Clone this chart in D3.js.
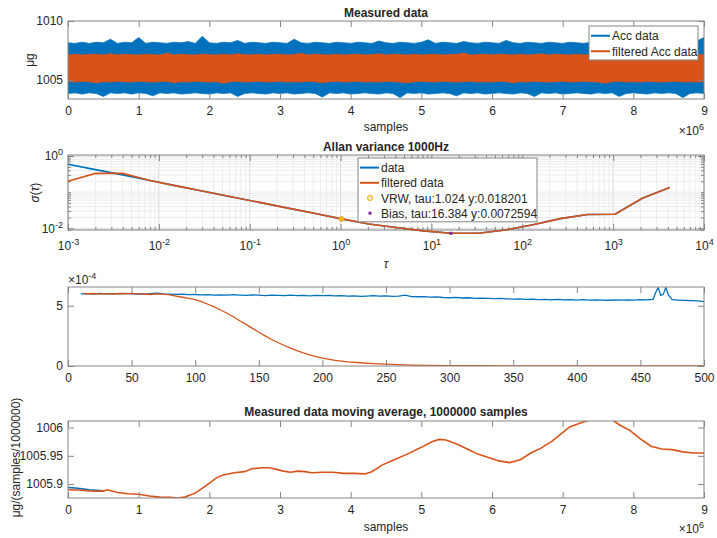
<!DOCTYPE html>
<html>
<head>
<meta charset="utf-8">
<script src="https://cdn.jsdelivr.net/npm/d3@7"></script>
<style>
body{margin:0;background:#fff;}
text{font-family:"Liberation Sans",Arial,sans-serif;fill:#262626;}
</style>
</head>
<body>
<svg id="fig" width="717" height="538"></svg>
<script>
// ---- panel 1: raw / filtered accelerometer data (noise band envelopes, x in 1e6 samples)
var rawX = [0,0.1,0.2,0.3,0.4,0.5,0.6,0.7,0.8,0.9,1,1.1,1.2,1.3,1.4,1.5,1.6,1.7,1.8,1.9,2,2.1,2.2,2.3,2.4,2.5,2.6,2.7,2.8,2.9,
  3,3.1,3.2,3.3,3.4,3.5,3.6,3.7,3.8,3.9,4,4.1,4.2,4.3,4.4,4.5,4.6,4.7,4.8,4.9,5,5.1,5.2,5.3,5.4,5.5,5.6,5.7,5.8,5.9,
  6,6.1,6.2,6.3,6.4,6.5,6.6,6.7,6.8,6.9,7,7.1,7.2,7.3,7.4,7.5,7.6,7.7,7.8,7.9,8,8.1,8.2,8.3,8.4,8.5,8.6,8.7,8.8,8.9,9];
var accHi = [1008.15,1008.1,1008.2,1008.1,1008.2,1008.15,1008.45,1008.1,1008.2,1008.15,
  1008.6,1008.1,1008.2,1008.15,1008.1,1008.2,1008.15,1008.25,1008.1,1008.7,
  1008.15,1008.1,1008.2,1008.15,1008.35,1008.1,1008.2,1008.15,1008.1,1008.2,
  1008.15,1008.1,1008.45,1008.15,1008.1,1008.2,1008.15,1008.1,1008.2,1008.15,
  1008.1,1008.2,1008.15,1008.1,1008.3,1008.15,1008.1,1008.2,1008.15,1008.1,
  1008.2,1008.4,1008.1,1008.2,1008.15,1008.1,1008.25,1008.15,1008.1,1008.2,
  1008.15,1008.1,1008.35,1008.15,1008.1,1008.2,1008.15,1008.1,1008.2,1008.15,
  1008.1,1008.2,1008.15,1008.1,1008.2,1008.0,1008.15,1008.1,1008.2,1008.05,
  1008.1,1008.15,1008.0,1008.1,1008.2,1008.15,1008.1,1008.05,1008.15,1008.3,1008.6];
var accLo = [1003.85,1003.9,1003.8,1003.9,1003.85,1003.6,1003.9,1003.85,1003.9,1003.8,
  1003.9,1003.85,1003.65,1003.9,1003.85,1003.9,1003.8,1003.85,1003.9,1003.85,
  1003.8,1003.9,1003.85,1003.9,1003.6,1003.85,1003.9,1003.85,1003.8,1003.9,
  1003.85,1003.9,1003.8,1003.85,1003.9,1003.85,1003.55,1003.9,1003.85,1003.9,
  1003.8,1003.85,1003.9,1003.85,1003.8,1003.9,1003.85,1003.5,1003.9,1003.85,
  1003.9,1003.8,1003.85,1003.9,1003.85,1003.65,1003.9,1003.85,1003.9,1003.8,
  1003.85,1003.9,1003.85,1003.8,1003.9,1003.85,1003.6,1003.9,1003.85,1003.9,
  1003.8,1003.85,1003.9,1003.85,1003.8,1003.9,1003.85,1003.9,1003.6,1003.85,
  1003.9,1003.85,1003.8,1003.9,1003.85,1003.9,1003.85,1003.5,1003.85,1003.9,1003.85];
var filtHi = [1007.12,1007.17,1007.12,1007.15,1007.18,1007.12,1007.22,1007.12,1007.17,1007.14,
  1007.12,1007.18,1007.14,1007.12,1007.26,1007.12,1007.17,1007.14,1007.12,1007.18,
  1007.14,1007.12,1007.18,1007.12,1007.22,1007.14,1007.12,1007.18,1007.12,1007.15,
  1007.18,1007.12,1007.15,1007.27,1007.12,1007.18,1007.14,1007.12,1007.18,1007.12,
  1007.15,1007.18,1007.12,1007.15,1007.22,1007.12,1007.18,1007.15,1007.12,1007.18,
  1007.12,1007.15,1007.18,1007.12,1007.15,1007.18,1007.26,1007.12,1007.15,1007.18,
  1007.12,1007.18,1007.15,1007.12,1007.18,1007.12,1007.15,1007.22,1007.12,1007.18,
  1007.15,1007.12,1007.18,1007.12,1007.15,1007.18,1007.12,1007.22,1007.15,1007.12,
  1007.18,1007.12,1007.15,1007.18,1007.12,1007.15,1007.18,1007.12,1007.15,1007.18,1007.12];
var filtLo = [1004.85,1004.82,1004.88,1004.85,1004.76,1004.85,1004.82,1004.88,1004.85,1004.82,
  1004.88,1004.85,1004.82,1004.85,1004.88,1004.76,1004.85,1004.82,1004.88,1004.85,
  1004.82,1004.85,1004.72,1004.85,1004.88,1004.82,1004.85,1004.88,1004.82,1004.85,
  1004.88,1004.82,1004.85,1004.82,1004.88,1004.85,1004.76,1004.85,1004.88,1004.82,
  1004.85,1004.88,1004.82,1004.85,1004.82,1004.88,1004.85,1004.82,1004.75,1004.85,
  1004.88,1004.85,1004.82,1004.88,1004.85,1004.82,1004.85,1004.88,1004.82,1004.85,
  1004.82,1004.88,1004.85,1004.76,1004.85,1004.82,1004.88,1004.85,1004.82,1004.85,
  1004.88,1004.82,1004.85,1004.88,1004.85,1004.82,1004.72,1004.85,1004.88,1004.82,
  1004.85,1004.82,1004.88,1004.85,1004.82,1004.85,1004.88,1004.82,1004.85,1004.82,1004.85];

// ---- panel 2: Allan deviation
var allanTau = [0.001,0.002,0.004,0.008,0.016,0.032,0.064,0.128,0.256,0.512,1.024,2.048,4.096,8.192,
  16.384,32.768,65.536,131.072,262.144,524.288,1048.576,2097.152,4194.304];
var allanData = [0.59,0.42,0.30,0.21,0.147,0.104,0.0737,0.0521,0.0368,0.026,0.0182,0.0132,0.0105,0.0085,
  0.00726,0.0073,0.009,0.0125,0.0185,0.024,0.0245,0.068,0.135];
var allanFilt = [0.20,0.33,0.33,0.21,0.147,0.104,0.0737,0.0521,0.0368,0.026,0.0182,0.0132,0.0105,0.0085,
  0.00726,0.0073,0.009,0.0125,0.0185,0.024,0.0245,0.068,0.135];
var vrwPoint = {tau:1.024, y:0.018201};
var biasPoint = {tau:16.384, y:0.0072594};

// ---- panel 3 (values x1e-4)
var p3BlueX = [10,15,20,25,30,35,40,45,50,55,60,65,70,75,80,85,90,95,100,105,110,115,120,125,130,135,140,145,150,
  155,160,165,170,175,180,185,190,195,200,205,210,215,220,225,230,235,240,245,250,255,260,265,270,275,280,285,290,
  295,300,305,310,315,320,325,330,335,340,345,350,355,360,365,370,375,380,385,390,395,400,405,410,415,420,425,430,
  435,440,445,450,455,460,462,464,466,468,470,472,475,480,485,490,495,500];
var p3BlueY = [5.98,6.0,5.97,6.01,5.98,6.0,5.99,6.02,5.98,5.97,5.95,5.99,6.03,5.98,5.96,5.94,5.95,5.91,5.93,5.89,
  5.92,5.88,5.9,5.87,5.91,5.88,5.86,5.9,5.87,5.84,5.88,5.85,5.83,5.87,5.84,5.86,5.82,5.85,5.83,5.86,5.81,5.84,5.8,
  5.82,5.78,5.8,5.83,5.79,5.81,5.77,5.79,5.88,5.76,5.74,5.76,5.71,5.73,5.68,5.66,5.69,5.64,5.66,5.61,5.63,5.6,
  5.58,5.61,5.57,5.55,5.57,5.52,5.55,5.51,5.53,5.49,5.52,5.48,5.5,5.47,5.5,5.46,5.49,5.47,5.45,5.48,5.46,5.49,
  5.47,5.5,5.48,5.53,6.1,6.5,5.85,5.95,6.5,5.9,5.5,5.47,5.44,5.42,5.4,5.33];
var p3RedX = [12,15,20,25,30,35,40,45,50,55,60,65,70,75,80,85,90,95,100,105,110,115,120,125,130,135,140,145,150,
  155,160,165,170,175,180,185,190,195,200,210,220,230,240,250,260,270,280,300,320,350,400,450,500];
var p3RedY = [6.02,5.99,6.01,5.98,6.0,5.97,6.01,5.99,6.02,5.98,5.97,5.93,5.98,5.96,5.9,5.8,5.7,5.6,5.5,5.33,
  5.12,4.9,4.64,4.37,4.08,3.75,3.45,3.12,2.8,2.5,2.2,1.95,1.7,1.48,1.27,1.08,0.92,0.78,0.65,0.46,0.35,0.27,0.2,
  0.15,0.11,0.08,0.06,0.035,0.02,0.01,0.004,0.002,0.001];

// ---- panel 4: moving average (x in 1e6 samples)
var maX = [0,0.1,0.2,0.3,0.4,0.5,0.55,0.7,0.85,1.0,1.15,1.3,1.45,1.55,1.65,1.8,1.95,2.1,2.2,2.35,2.5,2.6,2.75,
  2.85,2.95,3.05,3.15,3.25,3.35,3.45,3.6,3.75,3.9,4.05,4.2,4.3,4.45,4.6,4.8,5.0,5.15,5.25,5.35,5.5,5.65,5.8,
  5.95,6.1,6.25,6.4,6.55,6.7,6.85,7.0,7.1,7.25,7.4,7.55,7.7,7.8,7.95,8.1,8.25,8.4,8.55,8.7,8.85,9.0];
var maFilt = [1005.890,1005.8895,1005.889,1005.888,1005.8875,1005.8875,1005.890,1005.885,1005.883,1005.882,
  1005.879,1005.877,1005.8765,1005.8755,1005.877,1005.884,1005.897,1005.911,1005.916,1005.920,1005.922,
  1005.927,1005.929,1005.929,1005.926,1005.923,1005.921,1005.923,1005.922,1005.920,1005.921,1005.921,
  1005.919,1005.919,1005.918,1005.922,1005.934,1005.942,1005.953,1005.965,1005.975,1005.979,1005.978,
  1005.971,1005.962,1005.953,1005.947,1005.941,1005.938,1005.943,1005.955,1005.964,1005.976,1005.991,
  1006.001,1006.008,1006.014,1006.015,1006.014,1006.005,1005.995,1005.980,1005.967,1005.962,1005.961,
  1005.957,1005.955,1005.955];
var maRawX = [0,0.1,0.2,0.3,0.4,0.5];
var maRaw = [1005.894,1005.893,1005.8915,1005.890,1005.889,1005.888];

var blue = "#0072BD", red = "#D95319", gold = "#EDB120", purple = "#7E2F8E";
var boxColor = "#858585";
var L = 68, R = 704, W = R - L;

var svg = d3.select("svg#fig");

function panel(top, h, name) {
  var g = svg.append("g").attr("transform", "translate(" + L + "," + top + ")");
  svg.append("clipPath").attr("id", name).append("rect").attr("width", W).attr("height", h);
  return g;
}

function styleAxis(sel) {
  sel.attr("font-size", 12).attr("font-family", "'Liberation Sans',Arial,sans-serif");
  sel.select(".domain").remove();
  sel.selectAll("line").attr("stroke", boxColor);
  sel.selectAll("text").attr("fill", "#262626");
}

function sup(sel, exp) {
  sel.each(function(d) {
    var t = d3.select(this).text(null);
    t.append("tspan").text("10");
    t.append("tspan").attr("dy", "-0.55em").attr("font-size", "9px").text(exp(d));
  });
}

function boxAxes(g, x, y, h, o) {
  var xa = d3.axisBottom(x).tickSize(-6).tickPadding(o.xPad || 7).tickValues(o.xTicks);
  if (o.xFormat) xa.tickFormat(o.xFormat);
  var gx = g.append("g").attr("transform", "translate(0," + h + ")").call(xa);
  styleAxis(gx);
  g.append("g").call(d3.axisTop(x).tickSize(-6).tickValues(o.xTicks).tickFormat("")).call(styleAxis);
  var ya = d3.axisLeft(y).tickSize(-6).tickPadding(5).tickValues(o.yTicks);
  if (o.yFormat) ya.tickFormat(o.yFormat);
  var gy = g.append("g").call(ya);
  styleAxis(gy);
  g.append("g").attr("transform", "translate(" + W + ",0)")
   .call(d3.axisRight(y).tickSize(-6).tickValues(o.yTicks).tickFormat("")).call(styleAxis);
  g.append("rect").attr("width", W).attr("height", h)
   .attr("fill", "none").attr("stroke", boxColor);
  return {gx: gx, gy: gy};
}

function title(txt, y) {
  svg.append("text").attr("x", L + W / 2).attr("y", y).attr("text-anchor", "middle")
     .attr("font-size", 12).attr("font-weight", "bold").text(txt);
}
function label(txt, x, y, rot) {
  var t = svg.append("text").attr("text-anchor", "middle").attr("font-size", 12)
     .attr("transform", "translate(" + x + "," + y + ")" + (rot ? " rotate(-90)" : ""));
  t.text(txt);
  return t;
}
function multiplier(x, y, exp, anchor) {
  var t = svg.append("text").attr("x", x).attr("y", y).attr("text-anchor", anchor).attr("font-size", 12);
  t.append("tspan").text("\u00d710");
  t.append("tspan").attr("dy", "-0.55em").attr("font-size", "9px").text(exp);
}

function legend(x, y, w, rowH, items) {
  var lg = svg.append("g").attr("transform", "translate(" + x + "," + y + ")");
  lg.append("rect").attr("width", w).attr("height", rowH * items.length + 3)
    .attr("fill", "#fff").attr("stroke", boxColor);
  var rows = lg.selectAll("g").data(items).enter().append("g")
    .attr("transform", function(d, i) { return "translate(0," + (rowH * i + rowH / 2 + 2) + ")"; });
  rows.each(function(d) {
    var r = d3.select(this);
    if (d.type == "line") {
      r.append("line").attr("x1", 2).attr("x2", 21).attr("stroke", d.color).attr("stroke-width", 2);
    } else if (d.type == "circle") {
      r.append("circle").attr("cx", 12).attr("r", 2.3).attr("fill", "none").attr("stroke", d.color).attr("stroke-width", 1.3);
    } else {
      r.append("rect").attr("x", 10.5).attr("y", -1.5).attr("width", 3).attr("height", 3).attr("fill", d.color);
    }
  });
  rows.append("text").attr("x", 23).attr("y", 4.5).attr("font-size", 12).text(function(d) { return d.name; });
}

// ===== panel 1
(function() {
  var top = 21, h = 78;
  var g = panel(top, h, "clip1");
  var x = d3.scaleLinear().domain([0, 9]).range([0, W]);
  var y = d3.scaleLinear().domain([1003.38, 1010]).range([h, 0]);
  var idx = d3.range(rawX.length);
  var plot = g.append("g").attr("clip-path", "url(#clip1)");
  plot.append("path").datum(idx).attr("fill", blue).attr("stroke", blue).attr("stroke-width", 0.8)
    .attr("d", d3.area().x(function(i) { return x(rawX[i]); })
      .y0(function(i) { return y(accLo[i]); }).y1(function(i) { return y(accHi[i]); }));
  plot.append("path").datum(idx).attr("fill", red).attr("stroke", red).attr("stroke-width", 0.8)
    .attr("d", d3.area().x(function(i) { return x(rawX[i]); })
      .y0(function(i) { return y(filtLo[i]); }).y1(function(i) { return y(filtHi[i]); }));
  boxAxes(g, x, y, h, {xTicks: d3.range(0, 10), yTicks: [1005, 1010], yFormat: d3.format("d")});
  title("Measured data", 17);
  label("samples", L + W / 2, 131);
  label("\u03bcg", 34, top + h / 2, true);
  multiplier(R, 135, "6", "end");
  legend(589, 26, 109, 15.5, [{name: "Acc data", color: blue, type: "line"},
                              {name: "filtered Acc data", color: red, type: "line"}]);
})();

// ===== panel 2
(function() {
  var top = 155, h = 75;
  var g = panel(top, h, "clip2");
  var x = d3.scaleLog().domain([1e-3, 1e4]).range([0, W]);
  var y = d3.scaleLog().domain([0.00897, 1.066]).range([h, 0]);
  var xMinor = [], yMinor = [];
  for (var k = -3; k < 4; k++) for (var m = 2; m < 10; m++) xMinor.push(m * Math.pow(10, k));
  for (var k2 = -3; k2 < 1; k2++) for (var m2 = 1; m2 < 10; m2++) {
    var v = m2 * Math.pow(10, k2);
    if (v > 0.00897 && v < 1.066 && v != 0.01 && v != 1) yMinor.push(v);
  }
  var grid = g.append("g");
  grid.selectAll("line.xm").data(xMinor).enter().append("line")
    .attr("x1", x).attr("x2", x).attr("y1", 0).attr("y2", h).attr("stroke", "#ececec");
  grid.selectAll("line.ym").data(yMinor).enter().append("line")
    .attr("x1", 0).attr("x2", W).attr("y1", y).attr("y2", y).attr("stroke", "#ececec");
  grid.selectAll("line.xM").data(d3.range(-3, 5)).enter().append("line")
    .attr("x1", function(e) { return x(Math.pow(10, e)); }).attr("x2", function(e) { return x(Math.pow(10, e)); })
    .attr("y1", 0).attr("y2", h).attr("stroke", "#dcdcdc");
  grid.selectAll("line.yM").data([0.01, 1]).enter().append("line")
    .attr("x1", 0).attr("x2", W).attr("y1", y).attr("y2", y).attr("stroke", "#dcdcdc");
  // minor ticks
  g.append("g").attr("transform", "translate(0," + h + ")")
    .call(d3.axisBottom(x).tickValues(xMinor).tickSize(-3).tickFormat("")).call(styleAxis);
  g.append("g").call(d3.axisTop(x).tickValues(xMinor).tickSize(-3).tickFormat("")).call(styleAxis);
  g.append("g").call(d3.axisLeft(y).tickValues(yMinor).tickSize(-3).tickFormat("")).call(styleAxis);
  g.append("g").attr("transform", "translate(" + W + ",0)")
    .call(d3.axisRight(y).tickValues(yMinor).tickSize(-3).tickFormat("")).call(styleAxis);
  var xTicks = [1e-3, 1e-2, 1e-1, 1, 10, 100, 1000, 10000];
  var ax = boxAxes(g, x, y, h, {xTicks: xTicks, yTicks: [0.01, 1], xPad: 11});
  ax.gx.selectAll(".tick text").call(sup, function(d) { return String(Math.round(Math.log10(d))); });
  ax.gy.selectAll(".tick text").call(sup, function(d) { return String(Math.round(Math.log10(d))); });

  var line = d3.line().x(function(d) { return x(d[0]); }).y(function(d) { return y(d[1]); });
  g.append("path").datum(d3.zip(allanTau, allanData)).attr("fill", "none")
    .attr("stroke", blue).attr("stroke-width", 1.6).attr("d", line);
  g.append("path").datum(d3.zip(allanTau, allanFilt)).attr("fill", "none")
    .attr("stroke", red).attr("stroke-width", 1.6).attr("d", line);
  g.append("circle").attr("cx", x(vrwPoint.tau)).attr("cy", y(vrwPoint.y)).attr("r", 2.5)
    .attr("fill", gold).attr("stroke", gold);
  g.append("rect").attr("x", x(biasPoint.tau) - 1.5).attr("y", y(biasPoint.y) - 1.5)
    .attr("width", 3).attr("height", 3).attr("fill", purple);
  title("Allan variance 1000Hz", 151);
  label("\u03c4", L + W / 2, 268).attr("font-style", "italic");
  var yl = label("", 39, top + h / 2, true);
  yl.append("tspan").attr("font-style", "italic").text("\u03c3");
  yl.append("tspan").text("(");
  yl.append("tspan").attr("font-style", "italic").text("\u03c4");
  yl.append("tspan").text(")");
  legend(358, 158, 179, 15.2, [{name: "data", color: blue, type: "line"},
                               {name: "filtered data", color: red, type: "line"},
                               {name: "VRW, tau:1.024 y:0.018201", color: gold, type: "circle"},
                               {name: "Bias, tau:16.384 y:0.0072594", color: purple, type: "square"}]);
})();

// ===== panel 3
(function() {
  var top = 287, h = 79;
  var g = panel(top, h, "clip3");
  var x = d3.scaleLinear().domain([0, 500]).range([0, W]);
  var y = d3.scaleLinear().domain([0, 6.55]).range([h, 0]);
  var plot = g.append("g").attr("clip-path", "url(#clip3)");
  var line = d3.line().x(function(d) { return x(d[0]); }).y(function(d) { return y(d[1]); });
  plot.append("path").datum(d3.zip(p3BlueX, p3BlueY)).attr("fill", "none")
    .attr("stroke", blue).attr("stroke-width", 1.3).attr("d", line);
  plot.append("path").datum(d3.zip(p3RedX, p3RedY)).attr("fill", "none")
    .attr("stroke", red).attr("stroke-width", 1.3).attr("d", line);
  boxAxes(g, x, y, h, {xTicks: d3.range(0, 501, 50), yTicks: [0, 5], yFormat: d3.format("d")});
  multiplier(L, 284, "-4", "start");
})();

// ===== panel 4
(function() {
  var top = 421, h = 77;
  var g = panel(top, h, "clip4");
  var x = d3.scaleLinear().domain([0, 9]).range([0, W]);
  var y = d3.scaleLinear().domain([1005.8754, 1006.0116]).range([h, 0]);
  var plot = g.append("g").attr("clip-path", "url(#clip4)");
  var line = d3.line().x(function(d) { return x(d[0]); }).y(function(d) { return y(d[1]); });
  plot.append("path").datum(d3.zip(maRawX, maRaw)).attr("fill", "none")
    .attr("stroke", blue).attr("stroke-width", 1.6).attr("d", line);
  plot.append("path").datum(d3.zip(maX, maFilt)).attr("fill", "none")
    .attr("stroke", red).attr("stroke-width", 1.6).attr("d", line);
  boxAxes(g, x, y, h, {xTicks: d3.range(0, 10), yTicks: [1005.9, 1005.95, 1006],
    yFormat: function(d) { return String(+d.toFixed(2)); }});
  title("Measured data moving average, 1000000 samples", 416);
  label("samples", L + W / 2, 531);
  label("\u03bcg/(samples/1000000)", 20, top + h / 2 - 2, true);
  multiplier(R, 533, "6", "end");
})();
</script>
</body>
</html>
